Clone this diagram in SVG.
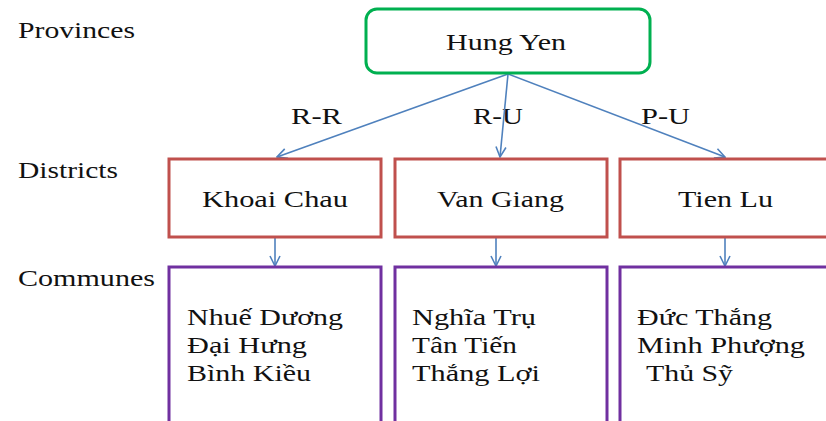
<svg xmlns="http://www.w3.org/2000/svg" width="826" height="421" viewBox="0 0 826 421">
<defs>
<marker id="arr" viewBox="0 0 12 12" refX="11" refY="6" markerWidth="12" markerHeight="12" markerUnits="userSpaceOnUse" orient="auto">
<path d="M1,1 L11,6 L1,11" fill="none" stroke="#4F81BD" stroke-width="1.6"/>
</marker>
<style>
.prov{fill:#fff;stroke:#00B050;stroke-width:3;}
.dist{fill:#fff;stroke:#C0504D;stroke-width:3;}
.comm{fill:#fff;stroke:#7030A0;stroke-width:3;}
.conn line{stroke:#4F81BD;stroke-width:1.6;marker-end:url(#arr);}
</style>
</defs>
<rect width="826" height="421" fill="#fff"/>
<g font-family="'Liberation Serif', 'Times New Roman', serif" font-size="24" fill="#111">
<g id="level-labels">
<text x="18" y="38" textLength="117" lengthAdjust="spacingAndGlyphs">Provinces</text>
<text x="18" y="178" textLength="100" lengthAdjust="spacingAndGlyphs">Districts</text>
<text x="18" y="286" textLength="137" lengthAdjust="spacingAndGlyphs">Communes</text>
</g>
<g id="edge-labels">
<text x="291" y="124" textLength="51" lengthAdjust="spacingAndGlyphs">R-R</text>
<text x="473" y="124" textLength="50" lengthAdjust="spacingAndGlyphs">R-U</text>
<text x="641" y="124" textLength="49" lengthAdjust="spacingAndGlyphs">P-U</text>
</g>
</g>
<g class="conn" id="connectors">
<line x1="508" y1="74" x2="277" y2="157"/>
<line x1="508" y1="74" x2="500" y2="157"/>
<line x1="508" y1="74" x2="725" y2="157"/>
<line x1="275" y1="238" x2="275" y2="266"/>
<line x1="496" y1="238" x2="496" y2="266"/>
<line x1="725" y1="238" x2="725" y2="266"/>
</g>
<g font-family="'Liberation Serif', 'Times New Roman', serif" font-size="24" fill="#111">
<g id="hung-yen">
<rect class="prov" x="366" y="9" width="284" height="64" rx="11"/>
<text x="446" y="50" textLength="120" lengthAdjust="spacingAndGlyphs">Hung Yen</text>
</g>
<g id="khoai-chau">
<rect class="dist" x="169" y="159" width="212" height="78"/>
<text x="202" y="207" textLength="146" lengthAdjust="spacingAndGlyphs">Khoai Chau</text>
</g>
<g id="van-giang">
<rect class="dist" x="395" y="159" width="212" height="78"/>
<text x="437" y="207" textLength="127" lengthAdjust="spacingAndGlyphs">Van Giang</text>
</g>
<g id="tien-lu">
<rect class="dist" x="620" y="159" width="220" height="78"/>
<text x="678" y="207" textLength="95" lengthAdjust="spacingAndGlyphs">Tien Lu</text>
</g>
<g id="communes-khoai-chau">
<rect class="comm" x="169" y="267" width="212" height="160"/>
<text x="187" y="325" textLength="156" lengthAdjust="spacingAndGlyphs">Nhuế Dương</text>
<text x="187" y="353" textLength="120" lengthAdjust="spacingAndGlyphs">Đại Hưng</text>
<text x="187" y="381" textLength="124" lengthAdjust="spacingAndGlyphs">Bình Kiều</text>
</g>
<g id="communes-van-giang">
<rect class="comm" x="395" y="267" width="212" height="160"/>
<text x="412" y="325" textLength="124" lengthAdjust="spacingAndGlyphs">Nghĩa Trụ</text>
<text x="412" y="353" textLength="105" lengthAdjust="spacingAndGlyphs">Tân Tiến</text>
<text x="412" y="381" textLength="128" lengthAdjust="spacingAndGlyphs">Thắng Lợi</text>
</g>
<g id="communes-tien-lu">
<rect class="comm" x="620" y="267" width="220" height="160"/>
<text x="637" y="325" textLength="135" lengthAdjust="spacingAndGlyphs">Đức Thắng</text>
<text x="637" y="353" textLength="168" lengthAdjust="spacingAndGlyphs">Minh Phượng</text>
<text x="646" y="381" textLength="87" lengthAdjust="spacingAndGlyphs">Thủ Sỹ</text>
</g>
</g>
</svg>
